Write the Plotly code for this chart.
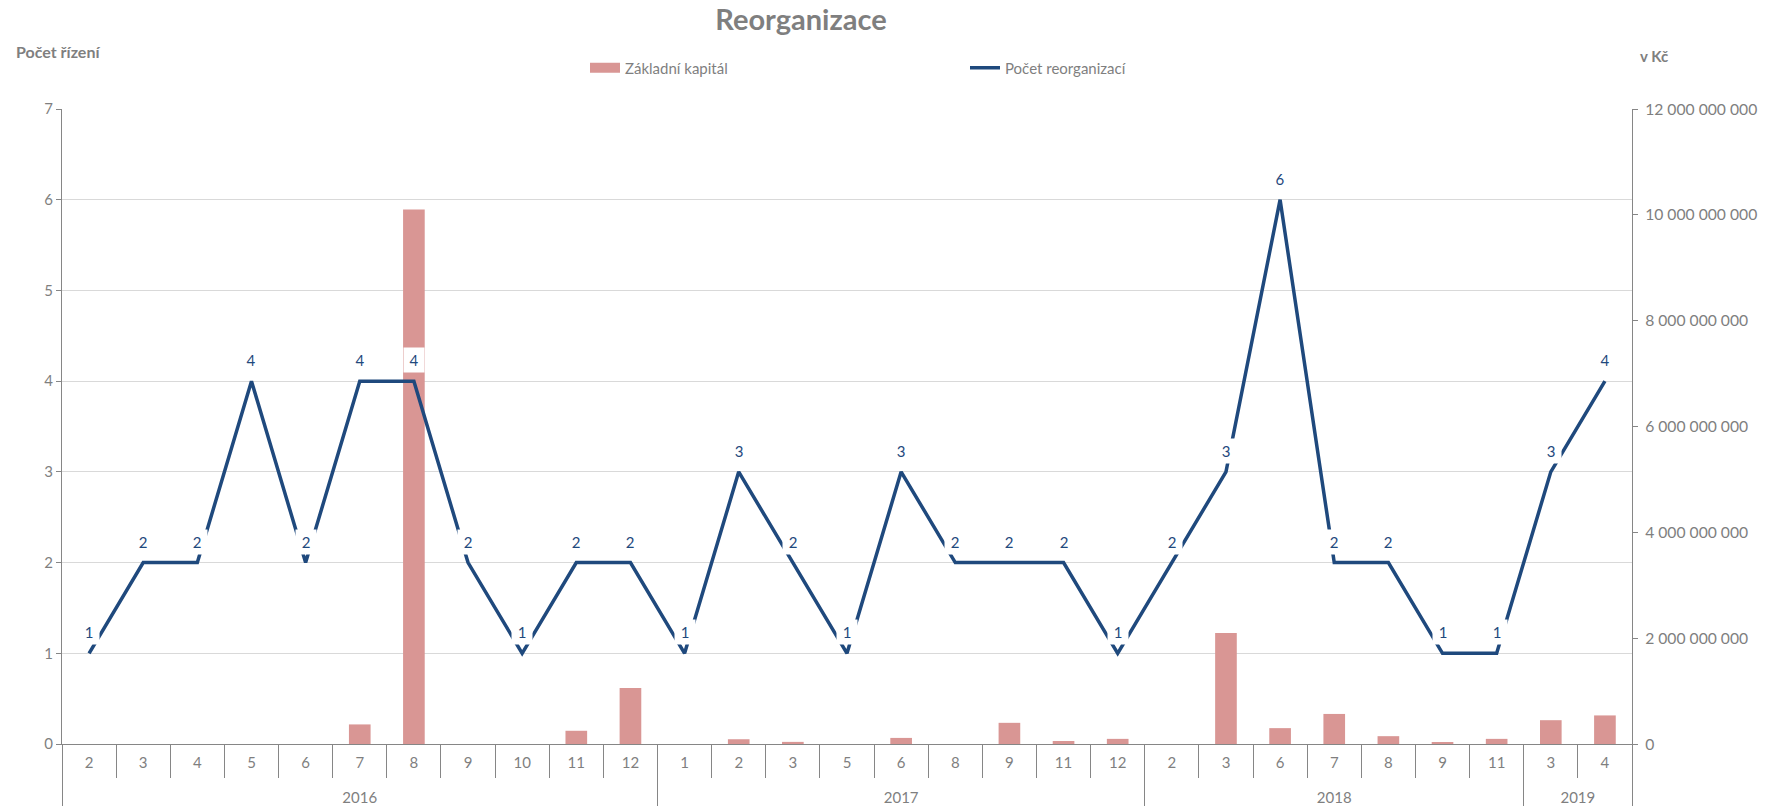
import plotly.graph_objects as go

years = ["2016"] * 11 + ["2017"] * 9 + ["2018"] * 7 + ["2019"] * 2
months = ["2", "3", "4", "5", "6", "7", "8", "9", "10", "11", "12",
          "1", "2", "3", "5", "6", "8", "9", "11", "12",
          "2", "3", "6", "7", "8", "9", "11",
          "3", "4"]
pocet = [1, 2, 2, 4, 2, 4, 4, 2, 1, 2, 2,
         1, 3, 2, 1, 3, 2, 2, 2, 1,
         2, 3, 6, 2, 2, 1, 1,
         3, 4]
kapital = [0, 0, 0, 0, 0, 0.37e9, 10.1e9, 0, 0, 0.25e9, 1.06e9,
           0, 0.09e9, 0.04e9, 0, 0.115e9, 0, 0.40e9, 0.057e9, 0.097e9,
           0, 2.1e9, 0.30e9, 0.568e9, 0.148e9, 0.019e9, 0.097e9,
           0.45e9, 0.54e9]

FONT = "Lato"
GRAY = "#7F7F7F"
AXIS = "#868686"
BLUE = "#1F497D"
PINK = "#D99694"

W, H = 1765, 810
L, R, T, B = 62, 133, 109, 66
PW, PH = W - L - R, H - T - B


def px_to_paper(x, y):
    return (x - L) / PW, (H - B - y) / PH


# Plotly orders multicategory inner labels by first appearance across all years,
# so make each year's month labels distinct with invisible zero-width spaces
# (keeps the chronological order within every year).
year_list = list(dict.fromkeys(years))
inner = [m + "\u200b" * year_list.index(y) for y, m in zip(years, months)]
outer = ["<br>" + y for y in years]  # push year row below the month separators
xcat = [outer, inner]

fig = go.Figure()
# legend-only entry to give the bar series a wide rectangular key
fig.add_trace(go.Scatter(
    x=[[outer[0]], [inner[0]]], y=[None], name="Základní kapitál", mode="lines",
    line=dict(color=PINK, width=10), yaxis="y2", hoverinfo="skip",
))
fig.add_trace(go.Bar(
    x=xcat, y=kapital, name="Základní kapitál", showlegend=False,
    marker=dict(color=PINK, line=dict(width=0)), width=0.4, yaxis="y",
))
fig.add_trace(go.Scatter(
    x=xcat, y=pocet, name="Počet reorganizací", mode="lines",
    line=dict(color=BLUE, width=3.5), yaxis="y2",
))

annotations = []
for i, v in enumerate(pocet):
    annotations.append(dict(
        x=i, y=v, xref="x", yref="y2", text=str(v), showarrow=False,
        yshift=21, yanchor="middle", xanchor="center",
        bgcolor="white", width=14, height=18, borderpad=3,
        font=dict(family=FONT, size=15, color=BLUE),
    ))
ax_, ay_ = px_to_paper(14, 51)
annotations.append(dict(text="<b>Počet řízení</b>", x=ax_, y=ay_,
                        xref="paper", yref="paper", showarrow=False,
                        xanchor="left", yanchor="middle",
                        font=dict(family=FONT, size=16, color=GRAY)))
bx_, by_ = px_to_paper(1638, 56)
annotations.append(dict(text="<b>v Kč</b>", x=bx_, y=by_,
                        xref="paper", yref="paper", showarrow=False,
                        xanchor="left", yanchor="middle",
                        font=dict(family=FONT, size=15, color=GRAY)))

lx, ly = px_to_paper(585, 68)

fig.update_layout(
    width=W, height=H,
    margin=dict(l=L, r=R, t=T, b=B, autoexpand=False),
    paper_bgcolor="white", plot_bgcolor="white",
    separators=", ",
    font=dict(family=FONT, size=15, color=GRAY),
    title=dict(text="<b>Reorganizace</b>", x=801 / W, xanchor="center",
               y=1 - 20 / H, yanchor="middle",
               font=dict(family=FONT, size=29, color=GRAY)),
    showlegend=True,
    legend=dict(orientation="h", x=lx, y=ly, xanchor="left", yanchor="middle",
                entrywidth=335, entrywidthmode="pixels",
                font=dict(family=FONT, size=15, color=GRAY),
                traceorder="normal"),
    xaxis=dict(type="multicategory",
               showline=True, linecolor=AXIS, linewidth=1,
               ticks="outside", tickson="boundaries", ticklen=33, tickcolor=AXIS,
               showdividers=True, dividercolor=AXIS, dividerwidth=1,
               tickfont=dict(family=FONT, size=15, color=GRAY),
               ticklabelstandoff=5, automargin=False, showgrid=False),
    yaxis=dict(side="right", range=[0, 12e9], dtick=2e9, tickformat=",d",
               showline=True, linecolor=AXIS, ticks="outside", ticklen=5,
               tickcolor=AXIS, showgrid=False, zeroline=False, ticklabelstandoff=4,
               tickfont=dict(family=FONT, size=15.7, color=GRAY), automargin=False),
    yaxis2=dict(side="left", overlaying="y", range=[0, 7], dtick=1,
                showline=True, linecolor=AXIS, ticks="outside", ticklen=5,
                tickcolor=AXIS, showgrid=True, gridcolor="#D9D9D9", gridwidth=1,
                zeroline=False,
                tickfont=dict(family=FONT, size=15, color=GRAY), automargin=False),
    annotations=annotations,
)

fig.write_html("out.html", config={"displayModeBar": False},
               post_script="document.body.style.margin='0';document.body.style.overflow='hidden';")
